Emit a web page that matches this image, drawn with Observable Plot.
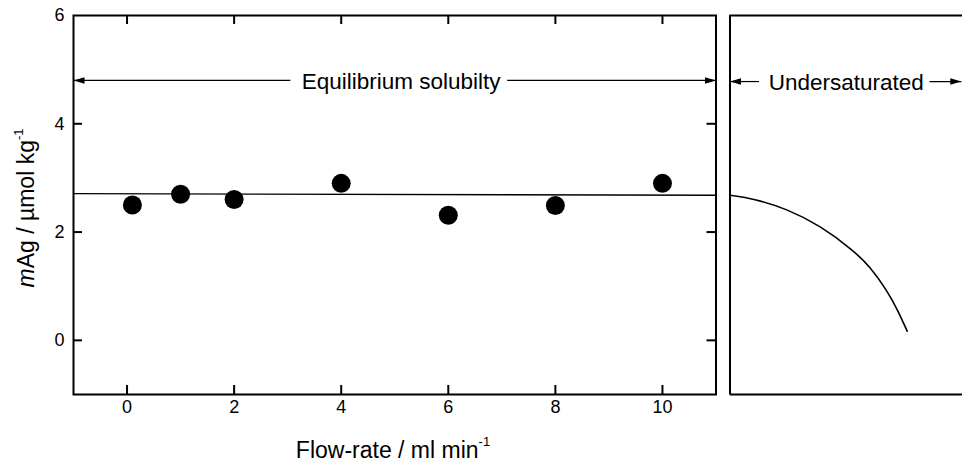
<!DOCTYPE html>
<html><head><meta charset="utf-8">
<script src="https://cdn.jsdelivr.net/npm/d3@7"></script>
<script src="https://cdn.jsdelivr.net/npm/@observablehq/plot@0.6"></script>
<style>
body{margin:0;background:#fff;}
#chart{position:relative;width:962px;height:474px;overflow:hidden;font-family:"Liberation Sans",Arial,sans-serif;}
#chart svg{position:absolute;left:0;top:0;overflow:visible;}
</style></head><body><div id="chart"></div>
<script>
// ---- data ----
const flowRate = [0.1, 1, 2, 4, 6, 8, 10];
const mAg      = [2.50, 2.70, 2.60, 2.90, 2.31, 2.49, 2.90];
const eqLineX  = [-1, 11];
const eqLineY  = [2.71, 2.68];
const xTicks   = [0, 2, 4, 6, 8, 10];
const yTicks   = [0, 2, 4, 6];
// undersaturated panel (arbitrary horizontal units 0..1)
const underT   = [0, 0.100, 0.244, 0.388, 0.531, 0.603, 0.675, 0.719, 0.762];
const underY   = [2.68, 2.62, 2.43, 2.12, 1.66, 1.36, 0.92, 0.58, 0.17];
// annotations
const eqLabel    = "Equilibrium solubilty";
const underLabel = "Undersaturated";
const eqArrowX   = [[3.05, -1], [7.10, 11]];
const eqArrowY   = 4.80;
const eqLabelX   = 5.12;
const unArrowX   = [[0.125, 0], [0.858, 0.995]];
const unArrowY   = 4.78;
const unLabelX   = 0.5;

const W = 962, H = 474;
const mTop = 15, mBottom = 80, leftL = 73, leftR = 715.5, rightL = 729.5;
const plotH = H - mTop - mBottom, plotW = leftR - leftL;
const font = "'Liberation Sans', Arial, sans-serif";

const points = flowRate.map((x, i) => ({x, y: mAg[i]}));
const eqLine = eqLineX.map((x, i) => ({x, y: eqLineY[i]}));
const curveData = underT.map((x, i) => ({x, y: underY[i]}));

// filled arrow head pointing left, tip at origin
const arrowHead = {draw(ctx) { ctx.moveTo(0, 0); ctx.lineTo(11, -3.2); ctx.lineTo(11, 3.2); ctx.closePath(); }};

function arrowMarks(segs, y, labelX, label) {
  const links = segs.map(([a, b]) => ({x1: a, x2: b, y}));
  const heads = segs.map(([a, b]) => ({x: b, y, rot: b < a ? 0 : 180}));
  return [
    Plot.link(links, {x1: "x1", x2: "x2", y1: "y", y2: "y", stroke: "#000", strokeWidth: 1.2}),
    Plot.dot(heads, {x: "x", y: "y", symbol: arrowHead, rotate: "rot", fill: "#000", stroke: "none", r: 4}),
    Plot.text([label], {x: labelX, y, text: d => d, fontSize: 22.5, fill: "#000", textAnchor: "middle", lineAnchor: "middle", dy: 1})
  ];
}

const left = Plot.plot({
  width: W, height: H,
  marginLeft: leftL, marginRight: W - leftR, marginTop: mTop, marginBottom: mBottom,
  x: {domain: [-1, 11]},
  y: {domain: [-1, 6]},
  style: {fontFamily: font, fontSize: "18px", color: "#000", background: "transparent", overflow: "visible"},
  marks: [
    Plot.axisX(xTicks, {tickSize: 0, tickPadding: 6, label: null, fontSize: 18, tickFormat: d3.format("d")}),
    Plot.axisY(yTicks, {tickSize: 0, tickPadding: 9, label: null, fontSize: 18, tickFormat: d3.format("d")}),
    Plot.tickX(xTicks, {x: d => d, insetBottom: plotH - 9, stroke: "#000", strokeWidth: 2}),
    Plot.tickX(xTicks, {x: d => d, insetTop: plotH - 9, stroke: "#000", strokeWidth: 2}),
    Plot.tickY(yTicks.slice(0, 3), {y: d => d, insetRight: plotW - 9, stroke: "#000", strokeWidth: 2}),
    Plot.tickY(yTicks.slice(0, 3), {y: d => d, insetLeft: plotW - 9, stroke: "#000", strokeWidth: 2}),
    Plot.line(eqLine, {x: "x", y: "y", stroke: "#000", strokeWidth: 1.3}),
    Plot.dot(points, {x: "x", y: "y", r: 9.5, fill: "#000", stroke: "none"}),
    ...arrowMarks(eqArrowX, eqArrowY, eqLabelX, eqLabel),
    Plot.frame({stroke: "#000", strokeWidth: 2})
  ]
});

const right = Plot.plot({
  width: W, height: H,
  marginLeft: rightL, marginRight: 0, marginTop: mTop, marginBottom: mBottom,
  x: {domain: [0, 1], axis: null},
  y: {domain: [-1, 6], axis: null},
  style: {fontFamily: font, fontSize: "18px", color: "#000", background: "transparent", overflow: "visible"},
  marks: [
    Plot.ruleY([-1, 6], {stroke: "#000", strokeWidth: 2}),
    Plot.ruleX([0], {stroke: "#000", strokeWidth: 2}),
    Plot.line(curveData, {x: "x", y: "y", curve: "basis", stroke: "#000", strokeWidth: 1.6}),
    ...arrowMarks(unArrowX, unArrowY, unLabelX, underLabel)
  ]
});

const chart = document.getElementById("chart");
chart.appendChild(left);
chart.appendChild(right);

// axis titles (real text with italic m and superscripts)
const svg = d3.select(left);
const yl = svg.append("text")
  .attr("transform", "translate(34,208) rotate(-90)")
  .attr("text-anchor", "middle")
  .attr("font-family", font).attr("font-size", 23).attr("fill", "#000");
yl.append("tspan").attr("font-style", "italic").text("m");
yl.append("tspan").text("Ag / µmol kg");
yl.append("tspan").attr("dy", -11).attr("font-size", 13).text("-1");

const xl = svg.append("text")
  .attr("x", 393).attr("y", 458)
  .attr("text-anchor", "middle")
  .attr("font-family", font).attr("font-size", 23).attr("fill", "#000");
xl.append("tspan").text("Flow-rate / ml min");
xl.append("tspan").attr("dy", -12).attr("font-size", 13).text("-1");
</script></body></html>
